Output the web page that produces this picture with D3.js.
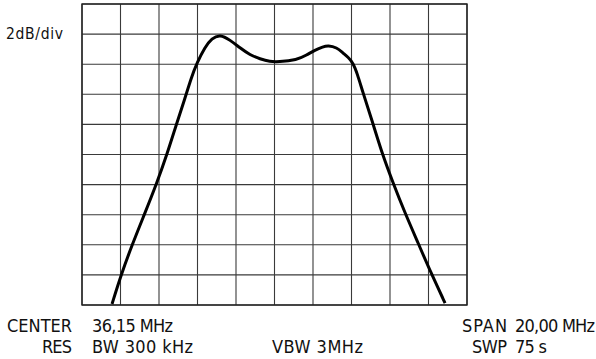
<!DOCTYPE html>
<html>
<head>
<meta charset="utf-8">
<script src="https://cdn.jsdelivr.net/npm/d3@7"></script>
<style>
  body { margin: 0; background: #fff; }
  svg { display: block; }
  text { font-family: "DejaVu Sans Condensed", "DejaVu Sans", sans-serif; fill: #111; }
</style>
</head>
<body>
<svg id="chart" width="596" height="359"></svg>
<script>
// trace: frequency (MHz) and level (dB relative to top line)
var freqMHz = [27.71, 28.18, 28.75, 29.40, 30.02, 30.57, 31.06, 31.47, 31.84, 32.12, 32.54, 32.89,
               33.32, 33.84, 34.36, 34.88, 35.40, 35.92, 36.33, 37.32, 37.82, 38.25, 38.67, 38.93,
               39.38, 39.71, 39.98, 40.23, 40.44, 40.75, 41.21, 41.73, 42.31, 42.93, 43.61, 44.28, 45.01];
var levelDb = [-19.93, -18.0, -16.01, -13.95, -11.96, -9.97, -7.97, -6.38, -4.85, -3.92, -2.86, -2.28,
               -2.02, -2.39, -2.92, -3.39, -3.65, -3.83, -3.85, -3.72, -3.39, -3.06, -2.84, -2.76,
               -2.88, -3.26, -3.54, -3.92, -4.58, -5.91, -7.71, -9.90, -11.89, -13.89, -15.88, -17.87, -19.87];

// screen settings
var centerMHz = 36.15, spanMHz = 20, dbPerDiv = 2, divisions = 10;

// annotation texts
var scaleLabel = "2dB/div";
var bottomLabels = [
    { text: "CENTER", x: 7, right: 72, row: 0 },
    { text: "36,15 MHz", x: 92, right: 173, row: 0 },
    { text: "SPAN", x: 462, right: 507, row: 0 },
    { text: "20,00 MHz", x: 515, right: 595, row: 0 },
    { text: "RES", x: 42, right: 72, row: 1 },
    { text: "BW 300 kHz", x: 92, right: 193, row: 1 },
    { text: "VBW 3MHz", x: 272, right: 363, row: 1 },
    { text: "SWP", x: 472, right: 507, row: 1 },
    { text: "75 s", x: 515, right: 547, row: 1 }
];

var svg = d3.select("#chart"),
    box = { left: 82, right: 467, top: 4, bottom: 305 };

var xScale = d3.scaleLinear()
    .domain([centerMHz - spanMHz / 2, centerMHz + spanMHz / 2])
    .range([box.left, box.right]);
var yScale = d3.scaleLinear()
    .domain([-dbPerDiv * divisions, 0])
    .range([box.bottom, box.top]);

var xLines = d3.range(divisions + 1).map(function(i) { return xScale.domain()[0] + i * spanMHz / divisions; });
var yLines = d3.range(divisions + 1).map(function(i) { return -i * dbPerDiv; });

var grid = svg.append("g").attr("class", "grid");

grid.selectAll(".vline")
    .data(xLines)
    .enter().append("line")
    .attr("x1", function(d) { return xScale(d); })
    .attr("x2", function(d) { return xScale(d); })
    .attr("y1", box.top)
    .attr("y2", box.bottom)
    .attr("stroke", "#3a3a3a")
    .attr("stroke-width", 1.1);

grid.selectAll(".hline")
    .data(yLines)
    .enter().append("line")
    .attr("y1", function(d) { return yScale(d); })
    .attr("y2", function(d) { return yScale(d); })
    .attr("x1", box.left)
    .attr("x2", box.right)
    .attr("stroke", "#3a3a3a")
    .attr("stroke-width", 1.1);

grid.append("rect")
    .attr("x", box.left)
    .attr("y", box.top)
    .attr("width", box.right - box.left)
    .attr("height", box.bottom - box.top)
    .attr("fill", "none")
    .attr("stroke", "#222")
    .attr("stroke-width", 1.4);

// the measured trace, smoothed with a basis spline
var trace = freqMHz.map(function(f, i) { return { f: f, db: levelDb[i] }; });

var line = d3.line()
    .curve(d3.curveBasis)
    .x(function(d) { return xScale(d.f); })
    .y(function(d) { return yScale(d.db); });

svg.append("path")
    .datum(trace)
    .attr("d", line)
    .attr("fill", "none")
    .attr("stroke", "#000")
    .attr("stroke-width", 3)
    .attr("stroke-linejoin", "round");

// labels
svg.append("text")
    .attr("x", 6)
    .attr("y", 39)
    .attr("textLength", 57)
    .attr("lengthAdjust", "spacing")
    .style("font-size", "15.5px")
    .text(scaleLabel);

svg.selectAll(".info")
    .data(bottomLabels)
    .enter().append("text")
    .attr("class", "info")
    .attr("x", function(d) { return d.x; })
    .attr("y", function(d) { return d.row === 0 ? 332 : 353; })
    .attr("textLength", function(d) { return d.right - d.x; })
    .attr("lengthAdjust", "spacing")
    .style("font-size", "18px")
    .text(function(d) { return d.text; });
</script>
</body>
</html>
